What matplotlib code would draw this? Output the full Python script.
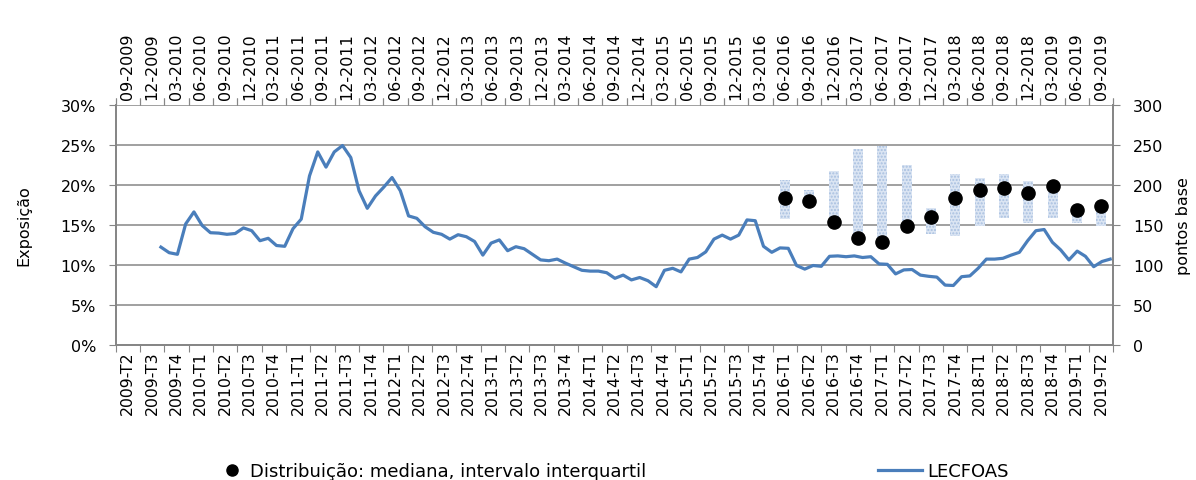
import numpy as np
import matplotlib.pyplot as plt
from matplotlib.lines import Line2D

# categorias trimestrais (eixo inferior) e datas de fim de trimestre (eixo superior)
quarters = [f"{2009 + (q + 1) // 4}-T{(q + 1) % 4 + 1}" for q in range(41)]
quarter_ends = [f"{['03', '06', '09', '12'][(q + 2) % 4]}-{2009 + (q + 2) // 4}" for q in range(41)]

# LECFOAS (%), serie mensal
lecfoas = [12.2, 11.5, 11.3, 15.1, 16.6, 14.9, 14.0, 13.95, 13.8, 13.9,
           14.6, 14.25, 13.0, 13.3, 12.4, 12.3, 14.5, 15.7, 21.1, 24.1,
           22.2, 24.1, 24.9, 23.4, 19.25, 17.05, 18.6, 19.7, 20.9, 19.25,
           16.1, 15.8, 14.75, 14.05, 13.8, 13.2, 13.75, 13.5, 12.9, 11.2,
           12.7, 13.1, 11.75, 12.25, 12.0, 11.3, 10.6, 10.5, 10.7, 10.2,
           9.75, 9.3, 9.2, 9.2, 9.0, 8.3, 8.7, 8.1, 8.4, 8.0,
           7.25, 9.3, 9.55, 9.1, 10.7, 10.9, 11.6, 13.2, 13.7, 13.2,
           13.7, 15.6, 15.5, 12.3, 11.55, 12.1, 12.05, 9.9, 9.45, 9.9,
           9.8, 11.05, 11.1, 11.0, 11.1, 10.9, 11.0, 10.1, 10.05, 8.85,
           9.35, 9.4, 8.7, 8.55, 8.45, 7.45, 7.4, 8.5, 8.6, 9.55,
           10.7, 10.7, 10.8, 11.2, 11.55, 13.0, 14.25, 14.4, 12.8, 11.85,
           10.6, 11.7, 11.05, 9.75, 10.4, 10.7]

# distribuicao (pontos base): 2016-T1 a 2019-T2
dist_idx = list(range(27, 41))
mediana = [184, 180, 153, 133, 129, 148, 160, 183, 194, 196, 190, 199, 169, 174]
q1 = [157, 175, 152, 138, 135, 153, 138, 136, 148, 159, 152, 159, 152, 148]
q3 = [206, 194, 217, 245, 249, 225, 171, 213, 209, 214, 205, 200, 169, 174]

plt.rcParams['font.family'] = ['DejaVu Sans']
fig = plt.figure(figsize=(11.96, 4.81), dpi=100)
ax = fig.add_axes([0.0967, 0.2813, 0.8342, 0.4989])
ax2 = ax.twinx()
ax.set_zorder(ax2.get_zorder() + 1)
ax.patch.set_visible(False)

grey = '#868686'
blue = '#4a7ebb'

# barras do intervalo interquartil e mediana
ax2.bar(dist_idx, np.array(q3) - np.array(q1), bottom=q1, width=0.41,
        color='#dbe5f3', edgecolor='#a9c0e0', hatch='.....', linewidth=0, zorder=2)
ax2.plot(dist_idx, mediana, 'o', color='black', markersize=9.5, zorder=3)
ax2.set_ylim(0, 300)
ax2.set_yticks(range(0, 301, 50))
ax2.yaxis.grid(True, color=grey, linewidth=1.1)
ax2.set_axisbelow(True)
ax2.set_ylabel('pontos base', fontsize=11.5, labelpad=9)

# linha LECFOAS
x_month = np.linspace(1.36, 40.37, len(lecfoas))
ax.plot(x_month, lecfoas, color=blue, linewidth=2.3, zorder=4)
ax.set_ylim(0, 30)
ax.set_yticks(range(0, 31, 5))
ax.set_yticklabels([f"{v}%" for v in range(0, 31, 5)])
ax.set_ylabel('Exposição', fontsize=11.5, labelpad=21)

ax.set_xlim(-0.5, 40.5)
edges = np.arange(-0.5, 41, 1)
centers = np.arange(41)
ax.set_xticks(edges)
ax.set_xticklabels([])
ax.set_xticks(centers, minor=True)
ax.set_xticklabels(quarters, minor=True, rotation=90, fontsize=11.3)
ax.tick_params(axis='x', which='major', length=5, color=grey, top=True, direction='out')
ax.tick_params(axis='x', which='minor', length=0, pad=4)

top = ax.secondary_xaxis('top')
top.set_xticks(edges)
top.set_xticklabels([])
top.set_xticks(centers, minor=True)
top.set_xticklabels(quarter_ends, minor=True, rotation=90, fontsize=11.5)
top.tick_params(axis='x', which='major', length=5, color=grey)
top.tick_params(axis='x', which='minor', length=0, pad=4)
top.spines['top'].set_visible(False)

for a in (ax, ax2):
    a.tick_params(axis='y', length=5, color=grey, labelsize=11.5, pad=9)
    for s in a.spines.values():
        s.set_color(grey)
        s.set_linewidth(1.3)
    a.spines['top'].set_visible(False)
ax2.tick_params(axis='x', length=0)

# legenda em baixo
fig.legend([Line2D([], [], marker='o', linestyle='none', color='black', markersize=8)],
           ['Distribuição: mediana, intervalo interquartil'],
           loc='center left', bbox_to_anchor=(0.1865, 0.019), frameon=False,
           fontsize=13, handlelength=1.0, handletextpad=0.5,
           borderpad=0, borderaxespad=0)
fig.legend([Line2D([], [], color=blue, linewidth=2.3)], ['LECFOAS'],
           loc='center left', bbox_to_anchor=(0.734, 0.019), frameon=False,
           fontsize=13, handlelength=2.45, handletextpad=0.3,
           borderpad=0, borderaxespad=0)

fig.savefig('out.png', dpi=100)
